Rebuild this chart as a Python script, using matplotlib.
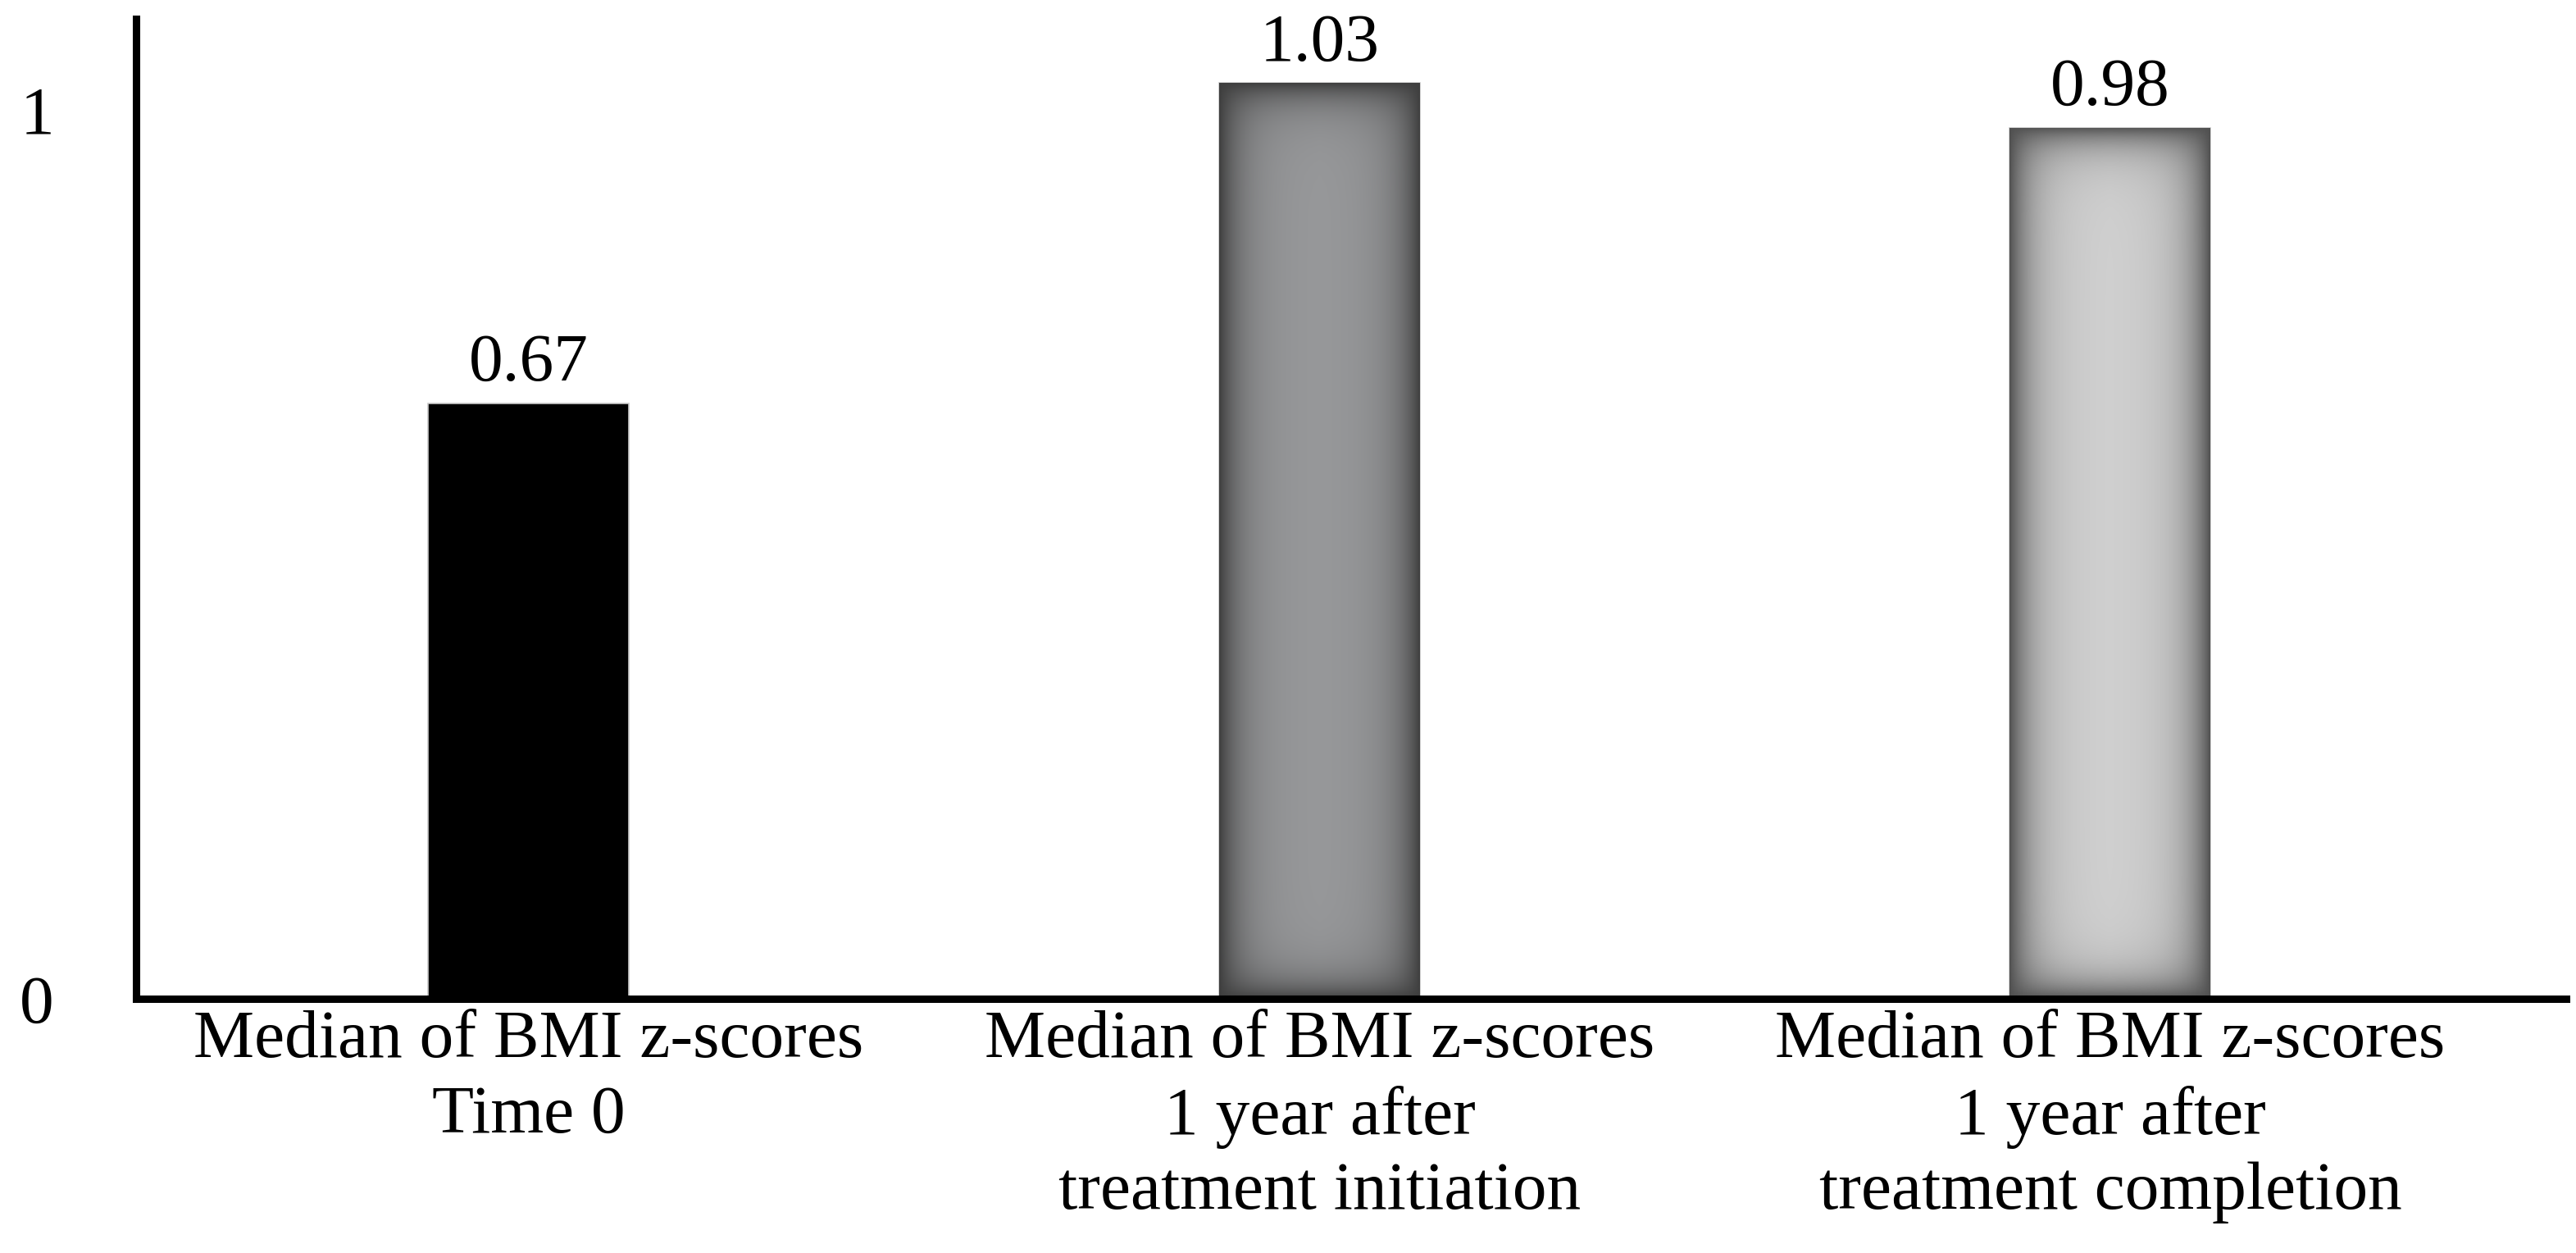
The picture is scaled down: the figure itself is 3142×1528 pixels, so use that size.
import numpy as np
import matplotlib
matplotlib.use("Agg")
import matplotlib.pyplot as plt
from matplotlib.colors import to_rgb

categories = [
    "Median of BMI z-scores\nTime 0",
    "Median of BMI z-scores\n1 year after\ntreatment initiation",
    "Median of BMI z-scores\n1 year after\ntreatment completion",
]
values = [0.67, 1.03, 0.98]
value_labels = ["0.67", "1.03", "0.98"]
yticks = [0, 1]

# face colour in the middle of each bar, and the darker shade at its edges
centre_colors = ["#000000", "#98999b", "#d1d1d1"]
edge_colors = ["#000000", "#3e3e3e", "#505050"]

plt.rcParams["font.family"] = ["Liberation Serif", "DejaVu Serif"]
FS = 60

fig = plt.figure(figsize=(31.42, 15.28), dpi=100)
ax = fig.add_axes([0.0528, 0.2029, 0.9434, 0.7821])

x = np.arange(len(values))
bars = ax.bar(x, values, width=0.254, color=centre_colors,
              edgecolor="#c8c8c8", linewidth=1.2, zorder=2)

ax.set_xlim(-0.4966, 2.5765)
ax.set_ylim(0, 1.1024)

ax.spines[["top", "right"]].set_visible(False)
for s in ["left", "bottom"]:
    ax.spines[s].set_linewidth(6.5)
    ax.spines[s].set_color("black")
    ax.spines[s].set_zorder(3)

ax.set_yticks(yticks)
ax.set_yticklabels([str(t) for t in yticks])
ax.set_xticks(x)
ax.set_xticklabels(categories, linespacing=1.28)
ax.tick_params(axis="y", length=0, pad=72, labelsize=FS)
ax.tick_params(axis="x", length=0, pad=10, labelsize=FS)

ax.bar_label(bars, labels=value_labels, padding=7, fontsize=FS)

# inner shading of the grey bars: darker towards every edge
fig.canvas.draw()
for bar, c0, c1 in zip(bars, centre_colors, edge_colors):
    if c0 == c1:
        continue
    x0, y0 = bar.get_x(), bar.get_y()
    w, h = bar.get_width(), bar.get_height()
    (px0, py0), (px1, py1) = ax.transData.transform([(x0, y0), (x0 + w, y0 + h)])
    nw, nh = int(px1 - px0), int(py1 - py0)
    cx = np.arange(nw) + 0.5
    cy = np.arange(nh) + 0.5
    dx = np.minimum(cx, nw - cx)[None, :]
    dy = np.minimum(cy, nh - cy)[:, None]
    dark = 1 - (1 - np.exp(-dx / 28.0)) * (1 - np.exp(-dy / 24.0))
    a, b = np.array(to_rgb(c0)), np.array(to_rgb(c1))
    img = a[None, None, :] * (1 - dark[..., None]) + b[None, None, :] * dark[..., None]
    im = ax.imshow(img, extent=(x0, x0 + w, y0, y0 + h), origin="lower",
                   aspect="auto", interpolation="bilinear", zorder=2.1)
    im.set_clip_path(bar)

ax.set_xlim(-0.4966, 2.5765)
ax.set_ylim(0, 1.1024)

fig.savefig("out.png", dpi=100, facecolor="white")
